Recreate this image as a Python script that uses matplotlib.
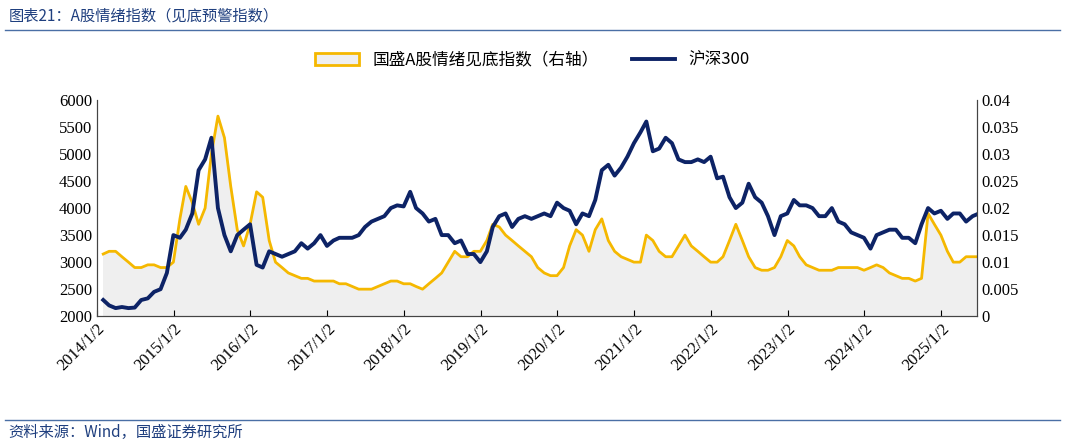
import matplotlib.pyplot as plt
import matplotlib.patches as mpatches
import numpy as np
import pandas as pd

months = pd.date_range('2014-01-02', periods=138, freq='MS')

hs300 = [2300, 2200, 2150, 2170, 2150, 2160, 2300, 2330, 2450, 2500, 2800, 3500,
         3450, 3600, 3900, 4700, 4900, 5300, 4000, 3500, 3200, 3500, 3600, 3700,
         2950, 2900, 3200, 3150, 3100, 3150, 3200, 3350, 3250, 3350, 3500, 3300,
         3400, 3450, 3450, 3450, 3500, 3650, 3750, 3800, 3850, 4000, 4050, 4030,
         4300, 4000, 3900, 3750, 3800, 3500, 3500, 3350, 3400, 3150, 3150, 3000,
         3200, 3650, 3850, 3900, 3650, 3800, 3850, 3800, 3850, 3900, 3850, 4100,
         4000, 3950, 3700, 3900, 3850, 4150, 4700, 4800, 4600, 4750, 4950, 5200,
         5400, 5600, 5050, 5100, 5300, 5200, 4900, 4850, 4850, 4900, 4850, 4950,
         4550, 4580, 4200, 4000, 4100, 4450, 4200, 4100, 3850, 3500, 3850, 3900,
         4150, 4050, 4050, 4000, 3850, 3850, 4000, 3750, 3700, 3550, 3500, 3450,
         3250, 3500, 3550, 3600, 3600, 3450, 3450, 3350, 3700, 4000, 3900, 3950,
         3800, 3900, 3900, 3750, 3850, 3900]

sentiment = [11.5, 12, 12, 11, 10, 9, 9, 9.5, 9.5, 9, 9, 10,
             18, 24, 21, 17, 20, 30, 37, 33, 24, 16, 13, 17,
             23, 22, 14, 10, 9, 8, 7.5, 7, 7, 6.5, 6.5, 6.5,
             6.5, 6, 6, 5.5, 5, 5, 5, 5.5, 6, 6.5, 6.5, 6,
             6, 5.5, 5, 6, 7, 8, 10, 12, 11, 11, 12, 12,
             14, 17, 16.5, 15, 14, 13, 12, 11, 9, 8, 7.5, 7.5,
             9, 13, 16, 15, 12, 16, 18, 14, 12, 11, 10.5, 10,
             10, 15, 14, 12, 11, 11, 13, 15, 13, 12, 11, 10,
             10, 11, 14, 17, 14, 11, 9, 8.5, 8.5, 9, 11, 14,
             13, 11, 9.5, 9, 8.5, 8.5, 8.5, 9, 9, 9, 9, 8.5,
             9, 9.5, 9, 8, 7.5, 7, 7, 6.5, 7, 19, 17, 15,
             12, 10, 10, 11, 11, 11]
sentiment = np.array(sentiment) / 1000

tick_years = list(range(2014, 2026))

cjk = 'Noto Sans CJK SC'
num_font = 'Liberation Serif'

fig = plt.figure(figsize=(10.65, 4.46), dpi=100)
ax = fig.add_axes([0.091, 0.291, 0.826, 0.485])
ax2 = ax.twinx()

ax2.fill_between(months, sentiment, 0, color='#efefef', zorder=1)
ax2.plot(months, sentiment, color='#F5B800', lw=2, zorder=2)
ax2.set_ylim(0, 0.04)
ax2.set_yticks(np.arange(0, 0.0401, 0.005))
ax2.set_yticklabels(['0', '0.005', '0.01', '0.015', '0.02', '0.025', '0.03', '0.035', '0.04'])

ax.set_zorder(ax2.get_zorder() + 1)
ax.patch.set_visible(False)
l2, = ax.plot(months, hs300, color='#0D2366', lw=2.8, label='沪深300')
ax.set_ylim(2000, 6000)
ax.set_yticks(range(2000, 6001, 500))

ax.set_xlim(pd.Timestamp('2014-01-02'), pd.Timestamp('2025-06-20'))
ticks = [pd.Timestamp(f'{y}-01-02') for y in tick_years]
ax.set_xticks(ticks)
ax.set_xticklabels([f'{y}/1/2' for y in tick_years], rotation=45, ha='right',
                   rotation_mode='anchor', fontfamily=num_font, fontsize=12)
for a in (ax, ax2):
    for lab in a.get_yticklabels():
        lab.set_fontfamily(num_font)
        lab.set_fontsize(12)
    a.spines['top'].set_visible(False)
    for s in ('left', 'right', 'bottom'):
        a.spines[s].set_color('#444444')
ax.tick_params(axis='x', direction='in', length=4)
ax.tick_params(axis='y', length=0)
ax2.tick_params(axis='y', length=0)

l1 = mpatches.Patch(facecolor='#efefef', edgecolor='#F5B800', lw=2, label='国盛A股情绪见底指数（右轴）')
fig.legend(handles=[l1, l2], loc='center', bbox_to_anchor=(0.5, 0.865), ncol=2, frameon=False,
           prop={'family': cjk, 'size': 12}, handlelength=2.6, columnspacing=2)

fig.text(0.008, 0.965, '图表21：A股情绪指数（见底预警指数）', fontfamily=cjk, fontsize=11,
         style='italic', color='#1f3f7f', va='center')
fig.add_artist(plt.Line2D([0.005, 0.995], [0.932, 0.932], color='#4a6fa5', lw=1))
fig.add_artist(plt.Line2D([0.005, 0.995], [0.058, 0.058], color='#4a6fa5', lw=1))
fig.text(0.008, 0.03, '资料来源：Wind，国盛证券研究所', fontfamily=cjk, fontsize=11,
         style='italic', color='#1f3f7f', va='center')

fig.savefig('out.png', dpi=100)
